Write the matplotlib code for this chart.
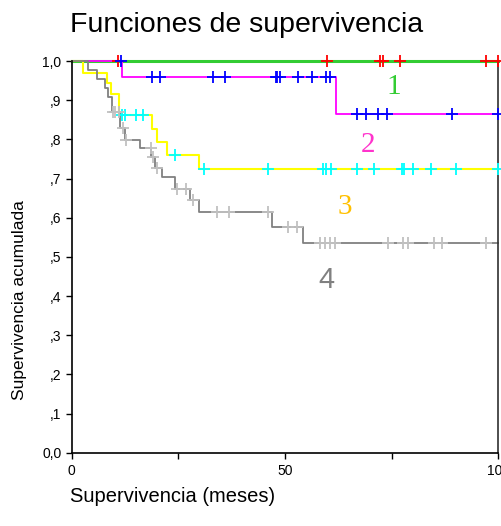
import matplotlib.pyplot as plt
import numpy as np

plt.rcParams['font.family'] = ['Liberation Sans', 'DejaVu Sans']

# event times (months) and survival after each event, censored times
t1 = []
s1 = []
c1 = [10.9, 59.8, 72.3, 73.0, 77.0, 97.2, 99.9]

t2 = [11.8, 61.9]
s2 = [0.960, 0.865]
c2 = [11.6, 18.8, 20.7, 33.1, 35.9, 47.9, 48.1, 48.8, 53.0, 56.3, 59.6, 60.5,
      66.8, 69.0, 71.8, 73.9, 89.1, 99.9]

t3 = [2.7, 8.2, 9.1, 11.1, 18.9, 20.1, 22.3, 29.9]
s3 = [0.970, 0.943, 0.916, 0.861, 0.827, 0.794, 0.760, 0.724]
c3 = [11.7, 12.5, 15.1, 16.6, 24.1, 31.0, 45.9, 59.0, 59.6, 60.8, 66.9, 70.9,
      77.4, 78.0, 80.1, 84.2, 90.1, 99.9]

t4 = [3.9, 5.9, 7.8, 8.6, 9.4, 11.3, 12.5, 16.0, 18.7, 19.5, 21.1, 24.2, 27.8,
      29.8, 47.0, 54.1]
s4 = [0.977, 0.955, 0.932, 0.909, 0.871, 0.828, 0.798, 0.777, 0.756, 0.726,
      0.703, 0.672, 0.644, 0.615, 0.577, 0.535]
c4 = [9.8, 10.2, 11.2, 12.1, 12.8, 18.5, 19.1, 19.9, 24.8, 26.8, 28.4, 34.0,
      36.9, 46.1, 50.8, 52.7, 58.2, 59.4, 60.5, 61.7, 74.2, 77.7, 78.8, 85.0,
      86.7, 97.1]

groups = [
    (t1, s1, c1, '#33cc33', '#ff0000', 2.2),
    (t2, s2, c2, '#ff00ff', '#0000ff', 1.3),
    (t3, s3, c3, '#ffff00', '#00ffff', 1.5),
    (t4, s4, c4, '#808080', '#c0c0c0', 1.3),
]

fig = plt.figure(figsize=(5.02, 5.26), dpi=100)
ax = fig.add_axes([0.1428, 0.1394, 0.8499, 0.7446])

for t, s, c, lc, mc, lw in groups:
    x = np.concatenate([[0], t, [100]])
    y = np.concatenate([[1.0], s, [s[-1] if len(s) else 1.0]])
    ax.step(x, y, where='post', color=lc, lw=lw, zorder=2, clip_on=False)
    idx = np.searchsorted(x, c, side='right') - 1
    ax.plot(c, y[idx], linestyle='none', marker='+', color=mc, ms=9, mew=1.3,
            zorder=3, clip_on=False)

ax.text(75.4, 0.934, '1', color='#33cc33', fontsize=21, family='Liberation Serif',
        ha='center', va='center')
ax.text(69.5, 0.786, '2', color='#ff33cc', fontsize=21, family='Liberation Serif',
        ha='center', va='center')
ax.text(64.1, 0.628, '3', color='#ffc000', fontsize=21, family='Liberation Serif',
        ha='center', va='center')
ax.text(59.6, 0.441, '4', color='#808080', fontsize=21,
        ha='center', va='center')

ax.set_xlim(0, 100)
ax.set_ylim(0, 1)
ax.set_xticks([0, 50, 100])
ax.set_xticks([25, 75], minor=True)
ax.set_yticks(np.arange(0, 11) / 10)
ax.set_yticklabels(['0,0', ',1', ',2', ',3', ',4', ',5', ',6', ',7', ',8', ',9', '1,0'])
ax.tick_params(axis='both', which='both', direction='out', length=4, width=1,
               labelsize=10)
ax.tick_params(axis='x', pad=4)
ax.spines['top'].set_visible(False)
for sp in ['left', 'bottom', 'right']:
    ax.spines[sp].set_linewidth(1.2)
ax.spines['right'].set_color('#303030')

fig.text(70 / 502, 1 - 25 / 526, 'Funciones de supervivencia', fontsize=20.5,
         ha='left', va='center')
fig.text(70 / 502, 1 - 497 / 526, 'Supervivencia (meses)', fontsize=14.5,
         ha='left', va='center')
fig.text(20 / 502, 1 - 300 / 526, 'Supervivencia acumulada', fontsize=12.5,
         ha='center', va='center', rotation=90)

fig.savefig('out.png', dpi=100)
